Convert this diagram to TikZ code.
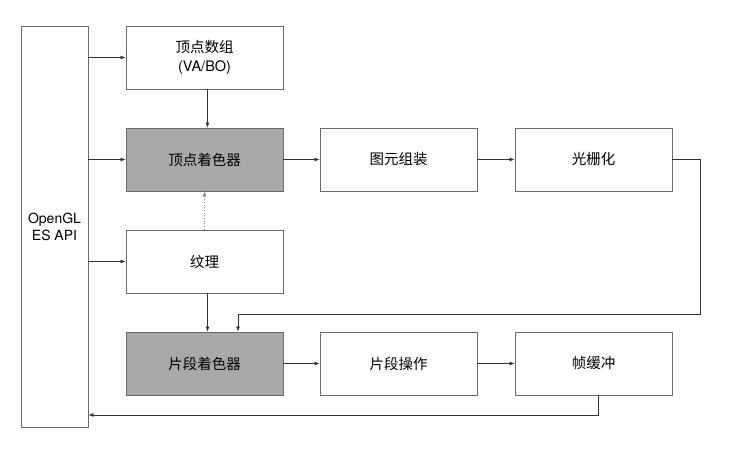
\documentclass[tikz,border=0pt]{standalone}
\usepackage{fontspec}
\setmainfont{TeX Gyre Heros}
\newfontfamily\cjk{Noto Sans CJK SC}
\usetikzlibrary{arrows.meta}
\definecolor{boxline}{HTML}{6A6A6A}
\definecolor{shade}{HTML}{A7A9A7}
\definecolor{wire}{HTML}{333333}
\definecolor{dotwire}{HTML}{8A8A8A}
\begin{document}
\begin{tikzpicture}[x=1pt,y=-1pt,
  blk/.style={draw=boxline, line width=0.9pt, fill=white, minimum width=157pt, minimum height=63pt, inner sep=0pt, align=center, font=\fontsize{14.5}{19}\selectfont},
  shaded/.style={blk, fill=shade},
  arr/.style={draw=wire, line width=0.7pt, -{Latex[length=5pt,width=4pt]}}
]
\useasboundingbox (0,0) rectangle (748,448);
\node[blk, minimum width=67pt, minimum height=401pt, font=\fontsize{14}{17}\selectfont] (api) at (54.5,226.5) {OpenGL\\ES API};
\node[blk] (va) at (204.5,57.5) {\cjk 顶点数组\\(VA/BO)};
\node[shaded] (vs) at (204.5,159.5) {\cjk 顶点着色器};
\node[blk] (pa) at (398.5,159.5) {\cjk 图元组装};
\node[blk] (rs) at (593.5,159.5) {\cjk 光栅化};
\node[blk] (tex) at (204.5,261.5) {\cjk 纹理};
\node[shaded] (fs) at (204.5,363.5) {\cjk 片段着色器};
\node[blk] (fo) at (398.5,363.5) {\cjk 片段操作};
\node[blk] (fb) at (593.5,363.5) {\cjk 帧缓冲};

\draw[arr] (api.east |- va) -- (va.west);
\draw[arr] (api.east |- vs) -- (vs.west);
\draw[arr] (api.east |- tex) -- (tex.west);
\draw[arr] ([xshift=3pt]va.south) -- ([xshift=3pt]vs.north);
\draw[arr, draw=dotwire, dotted] (tex.north) -- (vs.south);
\draw[arr] ([xshift=3pt]tex.south) -- ([xshift=3pt]fs.north);
\draw[arr] (vs.east) -- (pa.west);
\draw[arr] (pa.east) -- (rs.west);
\draw[arr] (fs.east) -- (fo.west);
\draw[arr] (fo.east) -- (fb.west);
\coordinate (turn1) at (700,314);
\draw[arr] (rs.east) -| (turn1) -| ([xshift=33.5pt]fs.north);
\coordinate (turn2) at (598,415);
\draw[arr] ([xshift=4.5pt]fb.south) |- (api.east |- turn2);
\end{tikzpicture}
\end{document}
